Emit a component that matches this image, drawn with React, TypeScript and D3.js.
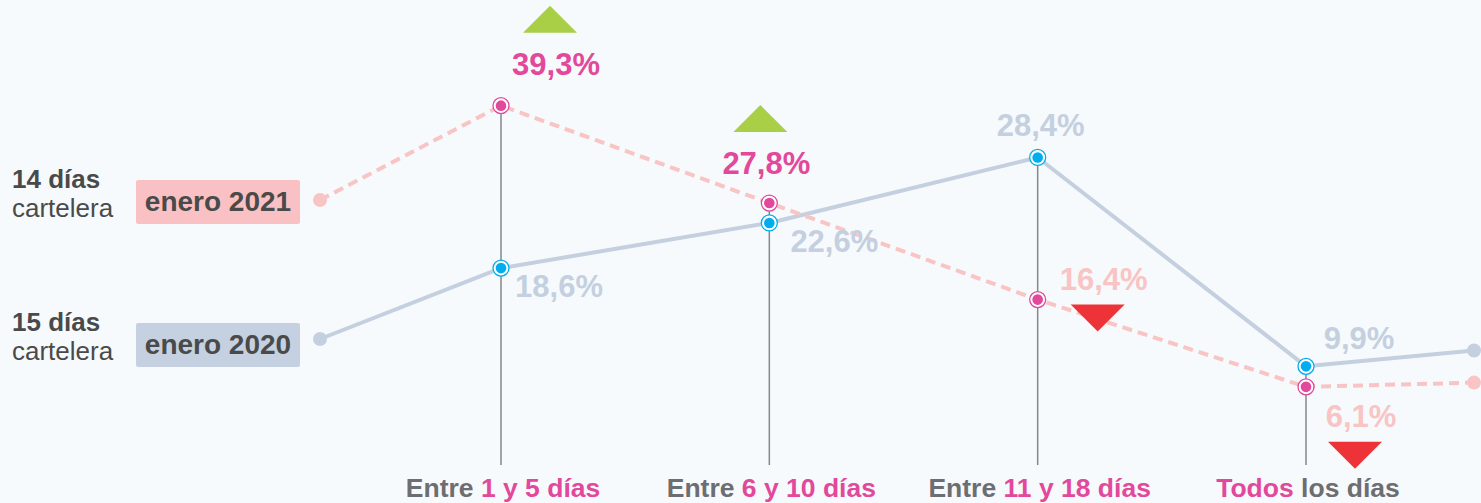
import React from "react";
import * as d3 from "d3";

// ---------- data ----------
const categories = ["Entre 1 y 5 días", "Entre 6 y 10 días", "Entre 11 y 18 días", "Todos los días"];
const categoryHighlights = ["1 y 5 días", "6 y 10 días", "11 y 18 días", "Todos"];
const series2021 = [39.3, 27.8, 16.4, 6.1];
const series2020 = [18.6, 22.6, 28.4, 9.9];
const tail2021 = 6.6;
const tail2020 = 11.3;
const seriesNames = ["enero 2021", "enero 2020"];
const seriesNoteBold = ["14 días", "15 días"];
const seriesNoteRegular = ["cartelera", "cartelera"];

// ---------- layout / style ----------
const W = 1481;
const H = 503;
const FONT = "'Liberation Sans', Arial, Helvetica, sans-serif";
const BG = "#f6fafd";
const MAGENTA = "#e2489b";
const CYAN = "#00aeef";
const PINK_LINE = "#f9c4c4";
const BLUE_LINE = "#c4d0df";
const GREEN = "#a8cf45";
const RED = "#ee3338";
const DARK = "#4a4a4a";
const GRAY_TXT = "#6d6e71";
const STEM = "#85878a";

// label offsets relative to the point (dx, dy to baseline center)
const labelOffsets2021 = [[55, -31], [-3, -29], [66, -10], [55, 40]];
const labelOffsets2020 = [[58, 29], [65, 29], [3, -21], [53, -17]];

const fmt = (v: number) => d3.format(".1f")(v).replace(".", ",") + "%";

function splitLabel(label: string, hi: string) {
  const i = label.indexOf(hi);
  const parts: { text: string; hi: boolean }[] = [];
  if (i > 0) parts.push({ text: label.slice(0, i), hi: false });
  parts.push({ text: hi, hi: true });
  if (i + hi.length < label.length) parts.push({ text: label.slice(i + hi.length), hi: false });
  return parts;
}

export default function App() {
  const x = d3.scalePoint<string>().domain(categories).range([501, 1306]);
  const y21 = d3.scaleLinear().domain([0, 40]).range([438.5, 99.7]);
  const y20 = d3.scaleLinear().domain([0, 40]).range([478.1, 26.5]);

  const leftX = 320;
  const rightX = 1474;
  const legendDotY = [200, 339];
  const boxTop = [180, 323];
  const stemBottom = 465;

  const pts21: [number, number][] = [
    [leftX, legendDotY[0]],
    ...series2021.map((v, i) => [x(categories[i])!, y21(v)] as [number, number]),
    [rightX, y21(tail2021)],
  ];
  const pts20: [number, number][] = [
    [leftX, legendDotY[1]],
    ...series2020.map((v, i) => [x(categories[i])!, y20(v)] as [number, number]),
    [rightX, y20(tail2020)],
  ];
  const line = d3.line();

  const marker = (cx: number, cy: number, color: string, key: string) => (
    <g key={key}>
      <circle cx={cx} cy={cy} r={8} fill="#ffffff" stroke={color} strokeWidth={1.3} />
      <circle cx={cx} cy={cy} r={5.3} fill={color} />
    </g>
  );

  return (
    <svg
      width={W}
      height={H}
      style={{ position: "absolute", left: 0, top: 0, display: "block" }}
      fontFamily={FONT}
    >
      <rect x={0} y={0} width={W} height={H} fill={BG} />

      {/* stems */}
      {categories.map((c, i) => (
        <line
          key={"stem" + i}
          x1={x(c)}
          x2={x(c)}
          y1={Math.min(y21(series2021[i]), y20(series2020[i]))}
          y2={stemBottom}
          stroke={STEM}
          strokeWidth={1.5}
        />
      ))}

      {/* lines */}
      <path d={line(pts20)!} fill="none" stroke={BLUE_LINE} strokeWidth={4} strokeLinejoin="round" />
      <path
        d={line(pts21)!}
        fill="none"
        stroke={PINK_LINE}
        strokeWidth={4}
        strokeDasharray="10,6"
      />

      {/* end dots */}
      <circle cx={pts20[0][0]} cy={pts20[0][1]} r={7} fill={BLUE_LINE} />
      <circle cx={pts20[pts20.length - 1][0]} cy={pts20[pts20.length - 1][1]} r={7} fill={BLUE_LINE} />
      <circle cx={pts21[0][0]} cy={pts21[0][1]} r={7} fill={PINK_LINE} />
      <circle cx={pts21[pts21.length - 1][0]} cy={pts21[pts21.length - 1][1]} r={7} fill={PINK_LINE} />

      {/* markers */}
      {series2020.map((v, i) => marker(x(categories[i])!, y20(v), CYAN, "m20" + i))}
      {series2021.map((v, i) => marker(x(categories[i])!, y21(v), MAGENTA, "m21" + i))}

      {/* 2020 labels */}
      {series2020.map((v, i) => (
        <text
          key={"l20" + i}
          x={x(categories[i])! + labelOffsets2020[i][0]}
          y={y20(v) + labelOffsets2020[i][1]}
          textAnchor="middle"
          fontSize={31}
          fontWeight="bold"
          fill={BLUE_LINE}
        >
          {fmt(v)}
        </text>
      ))}

      {/* 2021 labels + trend triangles */}
      {series2021.map((v, i) => {
        const up = v > series2020[i];
        const lx = x(categories[i])! + labelOffsets2021[i][0];
        const ly = y21(v) + labelOffsets2021[i][1];
        const tx = lx - 6;
        const tri = up
          ? `M${tx - 27},${ly - 42} L${tx + 27},${ly - 42} L${tx},${ly - 69} Z`
          : `M${tx - 27},${ly + 15} L${tx + 27},${ly + 15} L${tx},${ly + 42} Z`;
        return (
          <g key={"l21" + i}>
            <path d={tri} fill={up ? GREEN : RED} />
            <text
              x={lx}
              y={ly}
              textAnchor="middle"
              fontSize={31}
              fontWeight="bold"
              fill={up ? MAGENTA : PINK_LINE}
            >
              {fmt(v)}
            </text>
          </g>
        );
      })}

      {/* category labels */}
      {categories.map((c, i) => (
        <text
          key={"cat" + i}
          x={x(c)! + 2}
          y={497}
          textAnchor="middle"
          fontSize={26.5}
          fontWeight="bold"
        >
          {splitLabel(c, categoryHighlights[i]).map((p, j) => (
            <tspan key={j} fill={p.hi ? MAGENTA : GRAY_TXT}>
              {p.text}
            </tspan>
          ))}
        </text>
      ))}

      {/* legend */}
      {seriesNames.map((name, i) => (
        <g key={"leg" + i}>
          <text x={12} y={boxTop[i] + 8} fontSize={26} fontWeight="bold" fill={DARK}>
            {seriesNoteBold[i]}
          </text>
          <text x={12} y={boxTop[i] + 37} fontSize={26} fill={DARK}>
            {seriesNoteRegular[i]}
          </text>
          <rect
            x={136}
            y={boxTop[i]}
            width={164}
            height={44}
            rx={2}
            fill={i === 0 ? "#f9c1c4" : "#c5d1e0"}
          />
          <text
            x={218}
            y={boxTop[i] + 31}
            textAnchor="middle"
            fontSize={28}
            fontWeight="bold"
            fill={DARK}
          >
            {name}
          </text>
        </g>
      ))}
    </svg>
  );
}
